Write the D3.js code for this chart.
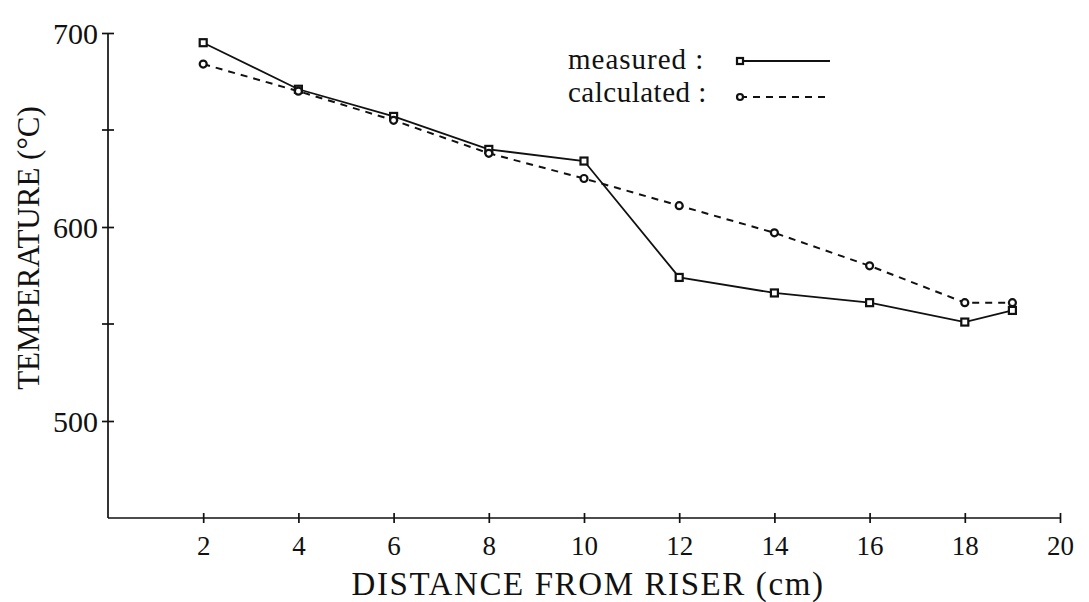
<!DOCTYPE html>
<html lang="en">
<head>
<meta charset="UTF-8">
<title>Temperature vs distance from riser</title>
<script src="https://d3js.org/d3.v7.min.js"></script>
<style>
    body { margin: 0; background: #fff; }
    svg { display: block; font-family: "Liberation Serif", "Times New Roman", serif; }
    .axis path, .axis line { stroke: #111; stroke-width: 1.7; }
    .axis text { fill: #111; font-family: "Liberation Serif", serif; }
</style>
</head>
<body>
<svg id="chart" width="1089" height="602"></svg>
<script>
    // values
    const distance = [2, 4, 6, 8, 10, 12, 14, 16, 18, 19];
    const measured = [695, 671, 657, 640, 634, 574, 566, 561, 551, 557];
    const calculated = [684, 670, 655, 638, 625, 611, 597, 580, 561, 561];
    const xTicks = [2, 4, 6, 8, 10, 12, 14, 16, 18, 20];
    const yTicks = [500, 600, 700];
    const yMinorTicks = [550, 650];

    const width = 1089, height = 602;
    const svg = d3.select("#chart");

    const x = d3.scaleLinear().domain([0, 20]).range([108, 1060]);
    const y = d3.scaleLinear().domain([450, 700]).range([518, 33]);

    // x axis, ticks cross the line
    const gx = svg.append("g").attr("class", "axis")
        .attr("transform", `translate(0,${y(450)})`)
        .call(d3.axisBottom(x).tickValues(xTicks).tickSizeOuter(0).tickSize(4).tickPadding(14));
    gx.selectAll(".tick line").attr("y1", -5).attr("y2", 5);
    gx.selectAll(".tick text").attr("font-size", 27);
    gx.select(".domain").attr("d", `M${x(0)},0H${x(20)}`);

    // y axis
    const gy = svg.append("g").attr("class", "axis")
        .attr("transform", `translate(${x(0)},0)`)
        .call(d3.axisLeft(y).tickValues(yTicks).tickSizeOuter(0).tickSize(5).tickPadding(5));
    gy.selectAll(".tick line").attr("x1", -6).attr("x2", 6);
    gy.selectAll(".tick text").attr("font-size", 30).attr("dy", "0.35em");
    gy.select(".domain").attr("d", `M0,${y(450)}V${y(700)}`);

    gy.selectAll(".minor").data(yMinorTicks).enter().append("line")
        .attr("class", "minor")
        .attr("x1", -6).attr("x2", 6)
        .attr("y1", d => y(d)).attr("y2", d => y(d))
        .attr("stroke", "#111").attr("stroke-width", 1.7);

    // axis titles
    svg.append("text")
        .attr("x", 588).attr("y", 595)
        .attr("text-anchor", "middle")
        .attr("font-size", 33)
        .attr("letter-spacing", 1.6)
        .attr("fill", "#111")
        .text("DISTANCE FROM RISER (cm)");

    svg.append("text")
        .attr("transform", "translate(39,248) rotate(-90)")
        .attr("text-anchor", "middle")
        .attr("font-size", 31)
        .attr("fill", "#111")
        .text("TEMPERATURE (°C)");

    // series
    const line = d3.line().x(d => x(d[0])).y(d => y(d[1]));
    const measPts = distance.map((d, i) => [d, measured[i]]);
    const calcPts = distance.map((d, i) => [d, calculated[i]]);

    svg.append("path").datum(calcPts)
        .attr("d", line)
        .attr("fill", "none").attr("stroke", "#111")
        .attr("stroke-width", 2).attr("stroke-dasharray", "7,6");

    svg.append("path").datum(measPts)
        .attr("d", line)
        .attr("fill", "none").attr("stroke", "#111")
        .attr("stroke-width", 1.8);

    svg.selectAll(".sq").data(measPts).enter().append("rect")
        .attr("class", "sq")
        .attr("x", d => x(d[0]) - 3.5).attr("y", d => y(d[1]) - 3.5)
        .attr("width", 7).attr("height", 7)
        .attr("fill", "#fff").attr("stroke", "#111").attr("stroke-width", 2.2);

    svg.selectAll(".ci").data(calcPts).enter().append("circle")
        .attr("class", "ci")
        .attr("cx", d => x(d[0])).attr("cy", d => y(d[1]))
        .attr("r", 3.5)
        .attr("fill", "#fff").attr("stroke", "#111").attr("stroke-width", 2.2);

    // legend
    const legend = svg.append("g");
    legend.append("text").attr("x", 568).attr("y", 69)
        .attr("font-size", 29).attr("letter-spacing", 1).attr("fill", "#111")
        .text("measured :");
    legend.append("text").attr("x", 568).attr("y", 102)
        .attr("font-size", 29).attr("letter-spacing", 0.5).attr("fill", "#111")
        .text("calculated :");
    legend.append("line").attr("x1", 740).attr("x2", 830).attr("y1", 61).attr("y2", 61)
        .attr("stroke", "#111").attr("stroke-width", 2);
    legend.append("rect").attr("x", 737).attr("y", 58).attr("width", 6).attr("height", 6)
        .attr("fill", "#fff").attr("stroke", "#111").attr("stroke-width", 2.2);
    legend.append("line").attr("x1", 740).attr("x2", 830).attr("y1", 97).attr("y2", 97)
        .attr("stroke", "#111").attr("stroke-width", 2).attr("stroke-dasharray", "7,6");
    legend.append("circle").attr("cx", 740).attr("cy", 97).attr("r", 3)
        .attr("fill", "#fff").attr("stroke", "#111").attr("stroke-width", 2.2);
</script>
</body>
</html>
